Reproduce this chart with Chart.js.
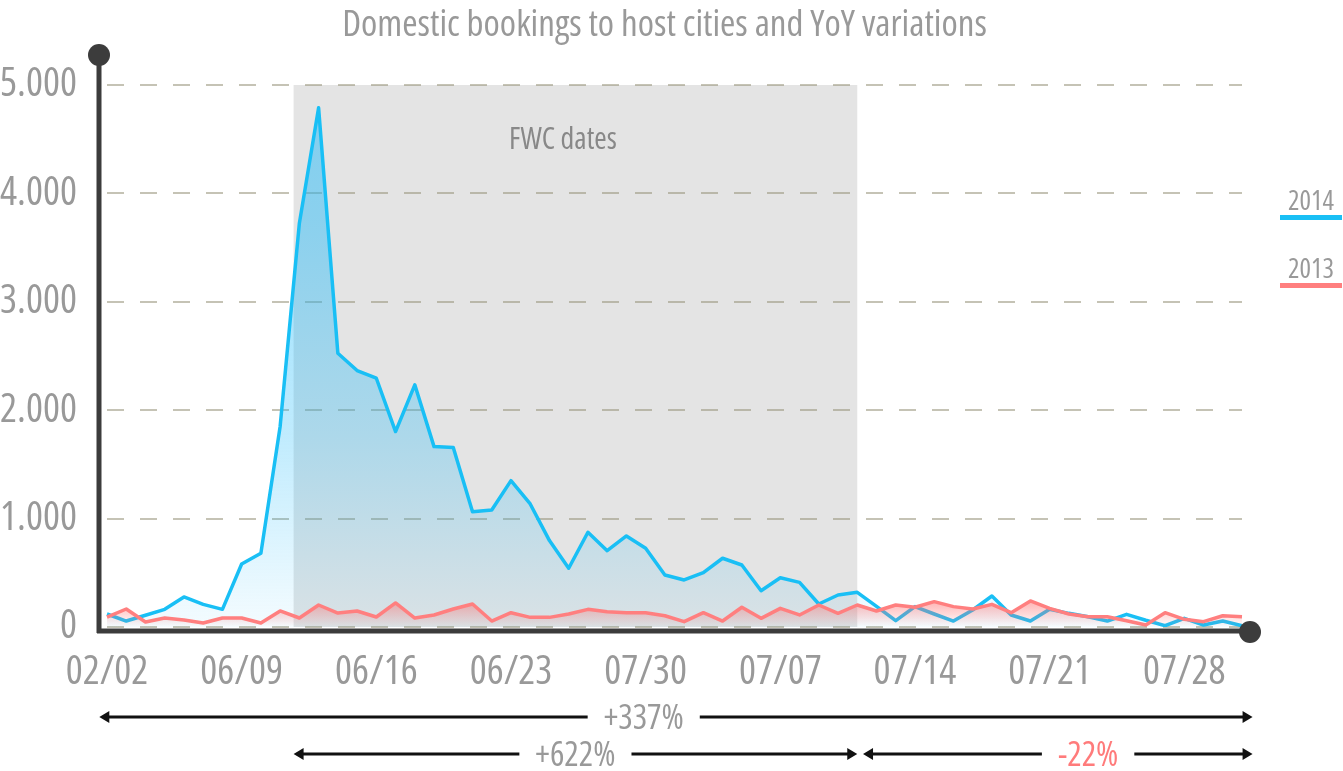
<!DOCTYPE html>
<html>
<head>
<meta charset="utf-8">
<script src="https://cdn.jsdelivr.net/npm/chart.js@4/dist/chart.umd.min.js"></script>
<style>
  html, body { margin: 0; background: #fff; }
  #wrap { width: 1343px; height: 771px; }
</style>
</head>
<body>
<div id="wrap"><canvas id="chart"></canvas></div>
<script>
/* ── data ─────────────────────────────────────── */
const days = [
  '06/02','06/03','06/04','06/05','06/06','06/07','06/08','06/09','06/10','06/11',
  '06/12','06/13','06/14','06/15','06/16','06/17','06/18','06/19','06/20','06/21',
  '06/22','06/23','06/24','06/25','06/26','06/27','06/28','06/29','06/30','07/01',
  '07/02','07/03','07/04','07/05','07/06','07/07','07/08','07/09','07/10','07/11',
  '07/12','07/13','07/14','07/15','07/16','07/17','07/18','07/19','07/20','07/21',
  '07/22','07/23','07/24','07/25','07/26','07/27','07/28','07/29','07/30','07/31'
];

// labels as printed on the original axis (one every 7 days)
const tickLabels = ['02/02','06/09','06/16','06/23','07/30','07/07','07/14','07/21','07/28'];

const bookings2014 = [
  120, 55, 108, 163, 277, 209, 163, 581, 680, 1850,
  3725, 4790, 2526, 2366, 2295, 1803, 2234, 1664, 1655, 1064,
  1080, 1350, 1135, 797, 542, 874, 704, 840, 726, 480,
  434, 501, 634, 572, 335, 455, 412, 212, 295, 320,
  190, 58, 188, 120, 55, 157, 286, 111, 55, 163,
  126, 95, 55, 117, 62, 12, 80, 18, 55, 12
];

const bookings2013 = [
  92, 166, 46, 83, 65, 37, 83, 83, 37, 148,
  83, 203, 129, 148, 92, 222, 83, 111, 166, 212,
  55, 132, 89, 89, 120, 163, 141, 132, 132, 104,
  49, 132, 55, 182, 80, 172, 111, 203, 126, 203,
  148, 203, 182, 234, 188, 166, 209, 132, 240, 172,
  120, 95, 95, 58, 18, 132, 71, 49, 104, 95
];

const yTicks    = [0, 1000, 2000, 3000, 4000, 5000];
const fwcRange  = [9.7, 39];          // shaded "FWC dates" span (x index)
const variations = [
  { row: 0, from: -0.4, to: 59.55, text: '+337%', at: 27.9,  color: '#999' },
  { row: 1, from: 9.7,  to: 39,    text: '+622%', at: 24.35, color: '#999' },
  { row: 1, from: 39.3, to: 59.55, text: '-22%',  at: 51,    color: '#ff7b7b' },
];

// Open Sans has a width axis: "condensed" gives the narrow look of the original
const FAMILY = "'Open Sans', sans-serif";
const font   = size => `condensed ${size}px ${FAMILY}`;
const GREY   = '#999';
const BLUE   = '#19bff5';
const RED    = '#ff7f7f';
const AXIS   = '#3c3c3c';

/* ── helpers ──────────────────────────────────── */
function fmtThousands(v) {
  return String(v).replace(/\B(?=(\d{3})+(?!\d))/g, '.');
}

function blueFill(ctx) {
  const area = ctx.chart.chartArea;
  if (!area) return 'rgba(30,185,250,0.3)';
  const g = ctx.chart.ctx.createLinearGradient(0, area.top, 0, area.bottom);
  g.addColorStop(0,   'rgba(30,185,250,0.50)');
  g.addColorStop(0.25,'rgba(30,185,250,0.45)');
  g.addColorStop(0.65,'rgba(30,185,250,0.28)');
  g.addColorStop(1,   'rgba(30,185,250,0.05)');
  return g;
}

function redFill(ctx) {
  const chart = ctx.chart;
  if (!chart.chartArea) return 'rgba(255,120,120,0.3)';
  const y = chart.scales.y;
  const g = chart.ctx.createLinearGradient(0, y.getPixelForValue(250), 0, y.getPixelForValue(0));
  g.addColorStop(0, 'rgba(255,110,110,0.55)');
  g.addColorStop(1, 'rgba(255,110,110,0.0)');
  return g;
}

/* ── decoration plugin ────────────────────────── */
const decor = {
  id: 'decor',
  beforeDraw(chart) {
    const { ctx, scales: { x, y } } = chart;
    const x0 = x.getPixelForValue(fwcRange[0]);
    const x1 = x.getPixelForValue(fwcRange[1]);
    const top = y.getPixelForValue(5000);
    const bot = y.getPixelForValue(0);
    ctx.save();
    ctx.fillStyle = '#e4e4e4';
    ctx.fillRect(x0, top, x1 - x0, bot - top);
    ctx.fillStyle = '#888';
    ctx.font = font(30);
    ctx.textAlign = 'center';
    ctx.textBaseline = 'middle';
    ctx.fillText('FWC dates', x.getPixelForValue(23.7), y.getPixelForValue(4485));
    ctx.restore();
  },
  afterDraw(chart) {
    const { ctx, chartArea: a, scales: { x } } = chart;
    ctx.save();

    // axes with end dots
    const ax = a.left - 8, ay = a.bottom + 4;
    ctx.strokeStyle = AXIS;
    ctx.fillStyle = AXIS;
    ctx.lineWidth = 5;
    ctx.beginPath();
    ctx.moveTo(ax, a.top - 30);
    ctx.lineTo(ax, ay + 2);
    ctx.moveTo(ax - 2, ay);
    ctx.lineTo(a.right + 8, ay);
    ctx.stroke();
    ctx.beginPath(); ctx.arc(ax, a.top - 30, 11, 0, Math.PI * 2); ctx.fill();
    ctx.beginPath(); ctx.arc(a.right + 8, ay + 1, 11, 0, Math.PI * 2); ctx.fill();

    // legend: year over a coloured bar
    const items = [chart.data.datasets[0], chart.data.datasets[1]];
    ctx.font = font(27);
    ctx.textAlign = 'center';
    ctx.textBaseline = 'alphabetic';
    items.forEach((ds, i) => {
      const baseY = 210 + i * 68;
      ctx.fillStyle = GREY;
      ctx.fillText(ds.label, 1311, baseY);
      ctx.fillStyle = ds.borderColor;
      ctx.fillRect(1280, baseY + 5, 62, 5);
    });

    // variation arrows
    ctx.font = font(34);
    ctx.textBaseline = 'middle';
    variations.forEach(v => {
      const yy = 717 + v.row * 37;
      const xa = x.getPixelForValue(v.from);
      const xb = x.getPixelForValue(v.to);
      const xt = x.getPixelForValue(v.at);
      const half = ctx.measureText(v.text).width / 2 + 16;
      ctx.strokeStyle = '#111';
      ctx.fillStyle = '#111';
      ctx.lineWidth = 3;
      ctx.beginPath();
      ctx.moveTo(xa + 4, yy); ctx.lineTo(xt - half, yy);
      ctx.moveTo(xt + half, yy); ctx.lineTo(xb - 4, yy);
      ctx.stroke();
      ctx.beginPath();
      ctx.moveTo(xa, yy); ctx.lineTo(xa + 10, yy - 6); ctx.lineTo(xa + 10, yy + 6); ctx.closePath();
      ctx.moveTo(xb, yy); ctx.lineTo(xb - 10, yy - 6); ctx.lineTo(xb - 10, yy + 6); ctx.closePath();
      ctx.fill();
      ctx.fillStyle = v.color;
      ctx.fillText(v.text, xt, yy + 2);
    });
    ctx.restore();
  }
};

/* ── chart ────────────────────────────────────── */
new Chart(document.getElementById('chart'), {
  type: 'line',
  data: {
    labels: days,
    datasets: [
      {
        label: '2014',
        data: bookings2014,
        borderColor: BLUE,
        backgroundColor: blueFill,
        borderWidth: 3.5,
        borderJoinStyle: 'round',
        pointRadius: 0,
        tension: 0,
        fill: 'origin',
        order: 2,
      },
      {
        label: '2013',
        data: bookings2013,
        borderColor: RED,
        backgroundColor: redFill,
        borderWidth: 3.5,
        borderJoinStyle: 'round',
        pointRadius: 0,
        tension: 0,
        fill: 'origin',
        order: 1,
      },
    ],
  },
  options: {
    responsive: true,
    maintainAspectRatio: false,
    animation: false,
    // small right padding + an empty right-hand box keep the plot at x=107..1242
    // while the title centres roughly where the original has it
    layout: { padding: { top: 0, right: 14, bottom: 0, left: 0 } },
    plugins: {
      legend: { display: false },
      tooltip: { enabled: false },
      title: {
        display: true,
        text: 'Domestic bookings to host cities and YoY variations',
        color: GREY,
        font: { family: FAMILY, size: 37, weight: 'condensed', lineHeight: 1.2 },
        padding: { top: 3, bottom: 37.6 },
      },
    },
    scales: {
      x: {
        grid: { display: false },
        border: { display: false },
        afterFit(s) { s.height = 144; },
        ticks: {
          autoSkip: false,
          maxRotation: 0,
          padding: 14,
          color: GREY,
          font: { family: FAMILY, size: 40, weight: 'condensed' },
          callback: (v, i) => (i % 7 === 0 ? tickLabels[i / 7] : ''),
        },
      },
      y: {
        min: 0,
        max: 5000,
        afterFit(s) { s.width = 107; },
        afterBuildTicks(s) { s.ticks = yTicks.map(v => ({ value: v })); },
        grid: { color: 'rgba(150,145,120,0.55)', lineWidth: 2, drawTicks: false },
        border: { display: false, dash: [17, 16] },
        ticks: {
          padding: 30,
          color: GREY,
          font: { family: FAMILY, size: 40, weight: 'condensed' },
          callback: v => fmtThousands(v),
        },
      },
      side: {
        position: 'right',
        afterFit(s) { s.width = 87; },
        grid: { display: false },
        border: { display: false },
        ticks: { display: false },
      },
    },
  },
  plugins: [decor],
});
</script>
</body>
</html>
